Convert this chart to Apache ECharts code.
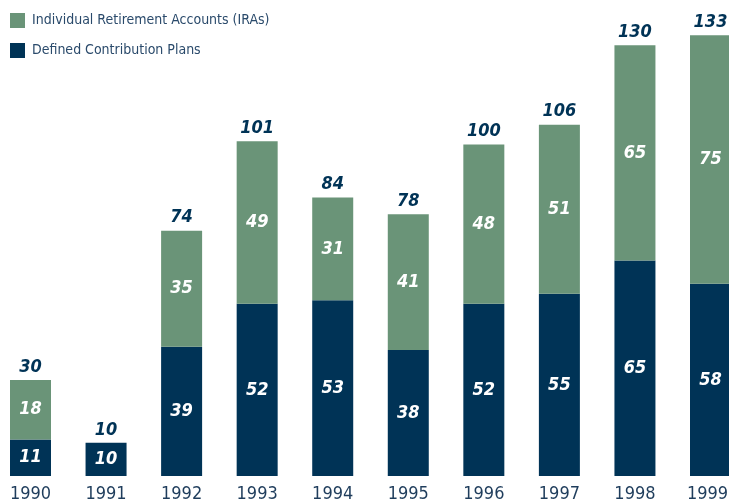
<!DOCTYPE html>
<html>
<head>
<meta charset="utf-8">
<script src="https://cdn.jsdelivr.net/npm/echarts@6/dist/echarts.min.js"></script>
<style>
  html, body { margin: 0; padding: 0; background: #fff; }
  #chart { width: 729px; height: 502px; }
</style>
</head>
<body>
<div id="chart"></div>
<script>
const years = ['1990', '1991', '1992', '1993', '1994', '1995', '1996', '1997', '1998', '1999']
const dcPlans = [11, 10, 39, 52, 53, 38, 52, 55, 65, 58]
const iras = [18, 0, 35, 49, 31, 41, 48, 51, 65, 75]
const totals = [30, 10, 74, 101, 84, 78, 100, 106, 130, 133]

const font = '"Liberation Sans Narrow", "DejaVu Sans Condensed", "Liberation Sans", sans-serif'
const navy = '#003356'
const green = '#6a9478'

const inside = {
  show: true,
  position: 'inside',
  color: '#fff',
  fontFamily: font,
  fontSize: 18,
  fontWeight: 'bold',
  fontStyle: 'italic',
  formatter: p => (p.value ? p.value : '')
}

const myChart = echarts.init(document.getElementById('chart'))

myChart.setOption({
  animation: false,
  legend: {
    orient: 'vertical',
    left: 10,
    top: 13,
    padding: 0,
    itemWidth: 15,
    itemHeight: 15,
    itemGap: 15,
    icon: 'rect',
    data: ['Individual Retirement Accounts (IRAs)', 'Defined Contribution Plans'],
    textStyle: { fontFamily: font, fontSize: 14, color: '#2a4a6b', padding: [0, 0, 0, 2] }
  },
  grid: { left: 30.5, right: 18.5, top: 12, bottom: 26, outerBoundsMode: 'none', containLabel: false },
  xAxis: {
    type: 'category',
    data: years,
    boundaryGap: false,
    axisLine: { show: false },
    axisTick: { show: false },
    axisLabel: {
      interval: 0,
      fontFamily: font,
      fontSize: 18,
      color: '#1f3d5c',
      margin: 9,
      // keep the last year inside the canvas
      formatter: (v, i) => (i === years.length - 1 ? '{last|' + v + '}' : v),
      rich: {
        last: { fontFamily: font, fontSize: 18, color: '#1f3d5c', padding: [0, 6, 0, 0] }
      }
    }
  },
  yAxis: {
    type: 'value',
    min: 0,
    max: 140,
    show: false,
    splitLine: { show: false }
  },
  series: [
    {
      name: 'Defined Contribution Plans',
      type: 'bar',
      stack: 'all',
      barWidth: 41,
      clip: false,
      itemStyle: { color: navy },
      label: inside,
      data: dcPlans
    },
    {
      name: 'Individual Retirement Accounts (IRAs)',
      type: 'bar',
      stack: 'all',
      barWidth: 41,
      clip: false,
      itemStyle: { color: green },
      label: inside,
      data: iras
    },
    {
      name: 'total',
      type: 'bar',
      stack: 'all',
      barWidth: 41,
      clip: false,
      itemStyle: { color: 'transparent' },
      label: {
        show: true,
        position: 'top',
        distance: 4,
        color: navy,
        fontFamily: font,
        fontSize: 18,
        fontWeight: 'bold',
        fontStyle: 'italic',
        formatter: p => totals[p.dataIndex]
      },
      data: years.map(() => 0)
    }
  ]
})
</script>
</body>
</html>
